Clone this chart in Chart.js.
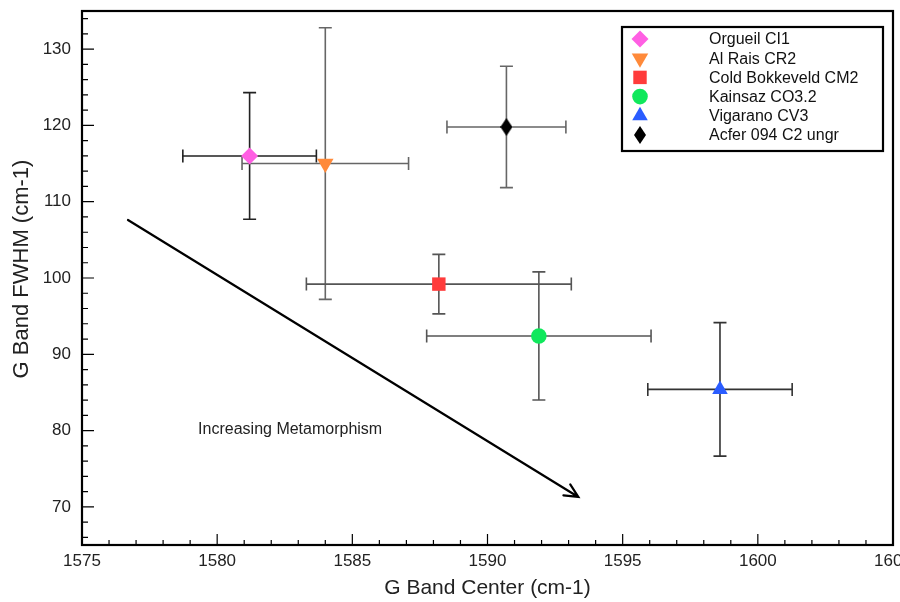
<!DOCTYPE html>
<html>
<head>
<meta charset="utf-8">
<script src="https://cdn.jsdelivr.net/npm/chart.js@4/dist/chart.umd.min.js"></script>
<style>
  html, body { margin: 0; padding: 0; background: #fff; }
  #wrap { width: 900px; height: 602px; }
</style>
</head>
<body>
<div id="wrap"><canvas id="chart" width="900" height="602"></canvas></div>
<script>
// meteorite samples, G band position and width
const samples = ['Orgueil CI1', 'Al Rais CR2', 'Cold Bokkeveld CM2', 'Kainsaz CO3.2', 'Vigarano CV3', 'Acfer 094 C2 ungr'];
const bandCenter = [1581.2, 1584.0, 1588.2, 1591.9, 1598.6, 1590.7];
const bandFwhm = [116.0, 115.0, 99.2, 92.4, 85.4, 119.8];
const centerErr = [2.47, 3.08, 4.9, 4.15, 2.67, 2.2];
const fwhmErr = [8.3, 17.8, 3.9, 8.4, 8.75, 7.95];

const xTicks = [1575, 1580, 1585, 1590, 1595, 1600, 1605];
const yTicks = [70, 80, 90, 100, 110, 120, 130];

// arrow annotation, in data units
const arrowFrom = [1576.7, 107.6];
const arrowTo = [1593.36, 71.3];
const arrowLabel = 'Increasing Metamorphism';
const arrowLabelAt = [1582.7, 80.1];

const FONT = '"Liberation Sans", Arial, Helvetica, sans-serif';

// narrow black diamond for Acfer
const narrowDiamond = document.createElement('canvas');
narrowDiamond.width = 12;
narrowDiamond.height = 18;
(function () {
  const c = narrowDiamond.getContext('2d');
  c.fillStyle = '#000';
  c.beginPath();
  c.moveTo(6, 0); c.lineTo(12, 9); c.lineTo(6, 18); c.lineTo(0, 9);
  c.closePath();
  c.fill();
})();

const markers = [
  { color: '#ff5fe3', style: 'rectRot', radius: 8.5, rotation: 0 },
  { color: '#ff8a3a', style: 'triangle', radius: 9.5, rotation: 180 },
  { color: '#ff3b3b', style: 'rect', radius: 9.5, rotation: 0 },
  { color: '#10e85c', style: 'circle', radius: 7.8, rotation: 0 },
  { color: '#2a5cff', style: 'triangle', radius: 9, rotation: 0 },
  { color: '#000000', style: narrowDiamond, radius: 9, rotation: 0 },
];
const barColors = ['#222', '#666', '#555', '#555', '#333', '#666'];

const datasets = samples.map((name, i) => ({
  label: name,
  data: [{ x: bandCenter[i], y: bandFwhm[i] }],
  pointStyle: markers[i].style,
  pointRadius: markers[i].radius,
  pointHoverRadius: markers[i].radius,
  pointRotation: markers[i].rotation,
  backgroundColor: markers[i].color,
  borderColor: markers[i].color,
  borderWidth: 0,
}));

const errorBars = {
  id: 'errorBars',
  beforeDatasetsDraw(chart) {
    const { ctx, scales: { x, y } } = chart;
    const cap = 6.5;
    ctx.save();
    ctx.lineWidth = 1.6;
    samples.forEach((_, i) => {
      const px = x.getPixelForValue(bandCenter[i]);
      const py = y.getPixelForValue(bandFwhm[i]);
      const x0 = x.getPixelForValue(bandCenter[i] - centerErr[i]);
      const x1 = x.getPixelForValue(bandCenter[i] + centerErr[i]);
      const y0 = y.getPixelForValue(bandFwhm[i] - fwhmErr[i]);
      const y1 = y.getPixelForValue(bandFwhm[i] + fwhmErr[i]);
      ctx.strokeStyle = barColors[i];
      ctx.beginPath();
      ctx.moveTo(x0, py); ctx.lineTo(x1, py);
      ctx.moveTo(x0, py - cap); ctx.lineTo(x0, py + cap);
      ctx.moveTo(x1, py - cap); ctx.lineTo(x1, py + cap);
      ctx.moveTo(px, y0); ctx.lineTo(px, y1);
      ctx.moveTo(px - cap, y0); ctx.lineTo(px + cap, y0);
      ctx.moveTo(px - cap, y1); ctx.lineTo(px + cap, y1);
      ctx.stroke();
    });
    ctx.restore();
  }
};

const frameAndNotes = {
  id: 'frameAndNotes',
  afterDatasetsDraw(chart) {
    const { ctx, chartArea: a, scales: { x, y } } = chart;
    ctx.save();

    // inward ticks, left and bottom
    ctx.strokeStyle = '#000';
    ctx.lineWidth = 1.2;
    ctx.beginPath();
    for (let v = 1576; v < 1605; v++) {
      const len = v % 5 === 0 ? 11 : 5;
      const px = x.getPixelForValue(v);
      ctx.moveTo(px, a.bottom); ctx.lineTo(px, a.bottom - len);
    }
    for (let v = 66; v <= 134; v += 2) {
      const len = v % 10 === 0 ? 12 : 6;
      const py = y.getPixelForValue(v);
      ctx.moveTo(a.left, py); ctx.lineTo(a.left + len, py);
    }
    ctx.stroke();

    // frame
    ctx.lineWidth = 2.2;
    ctx.strokeRect(a.left, a.top, a.right - a.left, a.bottom - a.top);

    // arrow
    const ax0 = x.getPixelForValue(arrowFrom[0]), ay0 = y.getPixelForValue(arrowFrom[1]);
    const ax1 = x.getPixelForValue(arrowTo[0]), ay1 = y.getPixelForValue(arrowTo[1]);
    const ang = Math.atan2(ay1 - ay0, ax1 - ax0);
    ctx.lineWidth = 2.2;
    ctx.lineCap = 'round';
    ctx.beginPath();
    ctx.moveTo(ax0, ay0); ctx.lineTo(ax1, ay1);
    const head = 15, spread = 0.45;
    ctx.moveTo(ax1 - head * Math.cos(ang - spread), ay1 - head * Math.sin(ang - spread));
    ctx.lineTo(ax1, ay1);
    ctx.lineTo(ax1 - head * Math.cos(ang + spread), ay1 - head * Math.sin(ang + spread));
    ctx.stroke();

    ctx.fillStyle = '#222';
    ctx.font = '16px ' + FONT;
    ctx.textAlign = 'center';
    ctx.textBaseline = 'middle';
    ctx.fillText(arrowLabel, x.getPixelForValue(arrowLabelAt[0]), y.getPixelForValue(arrowLabelAt[1]));

    // y axis title, sits a little above the axis middle in the original
    ctx.save();
    ctx.translate(22, 269);
    ctx.rotate(-Math.PI / 2);
    ctx.font = '22px ' + FONT;
    ctx.fillText('G Band FWHM (cm-1)', 0, 0);
    ctx.restore();

    // legend box
    const lx = 622, ly = 27, lw = 261, lh = 124;
    ctx.fillStyle = '#fff';
    ctx.fillRect(lx, ly, lw, lh);
    ctx.lineWidth = 2.2;
    ctx.strokeStyle = '#000';
    ctx.strokeRect(lx, ly, lw, lh);
    ctx.font = '16px ' + FONT;
    ctx.textAlign = 'left';
    samples.forEach((name, i) => {
      const rowY = ly + 12 + i * 19.2;
      const m = markers[i];
      ctx.fillStyle = m.color;
      ctx.strokeStyle = m.color;
      Chart.helpers.drawPoint(ctx, {
        pointStyle: m.style, radius: m.radius, rotation: m.rotation, borderWidth: 0
      }, 640, rowY);
      ctx.fillStyle = '#111';
      ctx.fillText(name, 709, rowY + 1);
    });

    ctx.restore();
  }
};

new Chart(document.getElementById('chart'), {
  type: 'scatter',
  data: { datasets },
  options: {
    responsive: false,
    animation: false,
    layout: { autoPadding: false, padding: { top: 11, right: 7, left: 0, bottom: 0 } },
    plugins: { legend: { display: false }, tooltip: { enabled: false } },
    scales: {
      x: {
        type: 'linear',
        min: 1575, max: 1605,
        afterBuildTicks: (s) => { s.ticks = xTicks.map(v => ({ value: v })); },
        afterFit: (s) => { s.height = 57; s.paddingLeft = 0; s.paddingRight = 0; },
        grid: { display: false, drawTicks: false },
        border: { display: false },
        ticks: { padding: 6, color: '#222', font: { family: FONT, size: 17 }, maxRotation: 0,
                 callback: (v) => String(v) },
        title: { display: true, text: 'G Band Center (cm-1)', color: '#222',
                 font: { family: FONT, size: 21 }, padding: { top: 0, bottom: 1 } }
      },
      y: {
        type: 'linear',
        min: 65, max: 135,
        afterBuildTicks: (s) => { s.ticks = yTicks.map(v => ({ value: v })); },
        afterFit: (s) => { s.width = 82; s.paddingTop = 0; s.paddingBottom = 0; },
        grid: { display: false, drawTicks: false },
        border: { display: false },
        ticks: { padding: 11, color: '#222', font: { family: FONT, size: 17 },
                 callback: (v) => String(v) }
      }
    }
  },
  plugins: [errorBars, frameAndNotes]
});
</script>
</body>
</html>
